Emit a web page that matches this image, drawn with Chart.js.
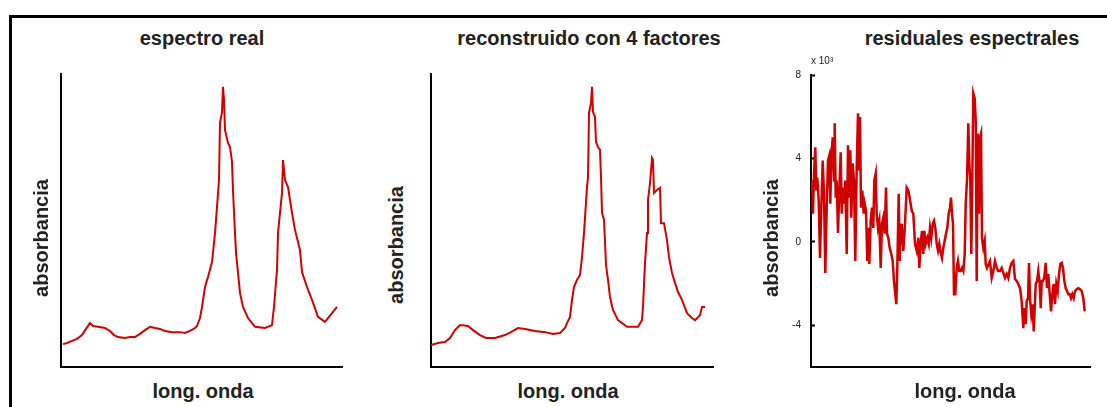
<!DOCTYPE html>
<html lang="es">
<head>
<meta charset="utf-8">
<title>Espectros y residuales</title>
<script src="https://cdn.jsdelivr.net/npm/chart.js@4.4.1/dist/chart.umd.min.js"></script>
<style>
  html, body { margin: 0; padding: 0; background: #fff; }
  body {
    width: 1107px; height: 407px; position: relative; overflow: hidden;
    font-family: "Liberation Sans", Arial, Helvetica, sans-serif; color: #222;
  }
  .frame {
    position: absolute; left: 9px; top: 15px; width: 1200px; height: 500px;
    border-left: 3px solid #000; border-top: 3px solid #000;
  }
  .panel { position: absolute; }
  .title, .xlabel {
    position: absolute; font-weight: bold; font-size: 20px; line-height: 20px;
    white-space: nowrap; transform: translateX(-50%);
  }
  .ylabel {
    position: absolute; width: 160px; height: 20px; font-weight: bold; font-size: 20px;
    line-height: 20px; text-align: center; white-space: nowrap; transform: rotate(-90deg);
  }
  .exp { position: absolute; font-size: 10px; line-height: 10px; white-space: nowrap; }
</style>
</head>
<body>
<div class="frame"></div>

<div class="panel" style="left:51px; top:64px; width:301px; height:313px;"><canvas id="realChart"></canvas></div>
<div class="panel" style="left:421px; top:64px; width:302px; height:313px;"><canvas id="reconChart"></canvas></div>
<div class="panel" style="left:771px; top:53px; width:329px; height:336px;"><canvas id="residChart"></canvas></div>

<div class="title" style="left:202px; top:28px;">espectro real</div>
<div class="title" style="left:589px; top:28px;">reconstruido con 4 factores</div>
<div class="title" style="left:972px; top:28px;">residuales espectrales</div>

<div class="ylabel" style="left:-39px; top:228px;">absorbancia</div>
<div class="ylabel" style="left:316px; top:235px;">absorbancia</div>
<div class="ylabel" style="left:691px; top:228px;">absorbancia</div>

<div class="xlabel" style="left:203px; top:381px;">long. onda</div>
<div class="xlabel" style="left:568px; top:381px;">long. onda</div>
<div class="xlabel" style="left:965px; top:381px;">long. onda</div>

<div class="exp" style="left:811px; top:56px;">x 10³</div>

<script>
// measured spectrum (arbitrary absorbance units, x = channel index)
const realX = [2, 6, 11, 16, 21, 25, 29, 32, 37, 44, 49, 53, 57, 64, 69, 74, 79, 84, 89, 94,
  99, 104, 111, 119, 124, 129, 134, 136, 139, 141, 144, 147, 151, 154, 156, 158, 159, 161, 162, 163,
  164, 167, 169, 171, 172, 173, 175, 177, 179, 182, 187, 194, 204, 211, 213, 216, 217, 219, 221, 222,
  224, 227, 231, 234, 239, 241, 246, 251, 257, 264, 271, 276];
const realY = [0.078, 0.082, 0.089, 0.096, 0.109, 0.130, 0.150, 0.140, 0.137, 0.133,
  0.123, 0.109, 0.102, 0.099, 0.102, 0.102, 0.113, 0.126, 0.137, 0.133,
  0.130, 0.123, 0.119, 0.119, 0.116, 0.123, 0.133, 0.140, 0.167, 0.205,
  0.273, 0.307, 0.358, 0.457, 0.546, 0.638, 0.833, 0.870, 0.956, 0.911,
  0.809, 0.765, 0.751, 0.700, 0.604, 0.526, 0.389, 0.321, 0.253, 0.205,
  0.167, 0.137, 0.133, 0.143, 0.205, 0.331, 0.457, 0.526, 0.594, 0.706,
  0.638, 0.614, 0.526, 0.468, 0.399, 0.324, 0.273, 0.229, 0.171, 0.154,
  0.184, 0.205];

// reconstruction from 4 factors
const reconX = [0, 7, 14, 19, 24, 29, 37, 42, 49, 55, 64, 74, 80, 87, 94, 104, 114, 122, 129, 134,
  136, 139, 141, 143, 146, 149, 151, 153, 156, 157, 158, 160, 161, 162, 164, 165, 167, 169, 170, 171,
  173, 175, 177, 179, 182, 187, 196, 207, 211, 212, 214, 216, 217, 219, 221, 222, 223, 226, 229, 230,
  233, 236, 238, 241, 244, 247, 251, 256, 261, 264, 269, 271, 274];
const reconY = [0.075, 0.082, 0.085, 0.099, 0.126, 0.143, 0.140, 0.126, 0.109, 0.099,
  0.099, 0.109, 0.119, 0.133, 0.130, 0.123, 0.119, 0.113, 0.116, 0.133,
  0.150, 0.171, 0.229, 0.273, 0.297, 0.314, 0.375, 0.457, 0.614, 0.648,
  0.867, 0.901, 0.956, 0.870, 0.853, 0.768, 0.751, 0.741, 0.648, 0.526,
  0.502, 0.348, 0.297, 0.239, 0.195, 0.160, 0.137, 0.137, 0.160, 0.205,
  0.355, 0.457, 0.570, 0.628, 0.713, 0.706, 0.594, 0.604, 0.611, 0.491,
  0.491, 0.433, 0.375, 0.321, 0.287, 0.256, 0.229, 0.184, 0.167, 0.160,
  0.177, 0.205, 0.205];

// residuals, in units of 1e-3
const residX = [1, 2, 3, 4.3, 5.3, 6.3, 7.7, 9, 10.3, 11.7, 13, 14.3, 15.7, 17, 18.3, 19.3, 20.3, 21.7, 23, 23.7,
  24.7, 25.7, 27, 28.3, 29.7, 30.7, 31.7, 33, 34.3, 35.7, 37, 38.3, 39.3, 40.3, 41.7, 43, 44.3, 45.7, 47, 48,
  49, 50, 51.3, 52.7, 53.7, 55, 56.3, 57.3, 58.3, 59.7, 61, 62.3, 63.3, 64.7, 65.7, 67, 68.3, 69.7, 71, 72.3,
  73.7, 75, 76, 77.3, 78.7, 80.3, 81.7, 83, 84.3, 85.3, 86.3, 87.7, 88.7, 89, 90.7, 92.3, 94, 95.7, 97.3, 98.7,
  100.7, 102.3, 104, 105.7, 107.3, 108.3, 109.7, 111, 112.3, 113.3, 114.7, 116.3, 117.7, 119, 120.3, 121.7, 123, 124.3, 125.7, 127,
  128.3, 129.7, 131, 132.3, 133.7, 135, 136.3, 137.7, 139, 140, 141, 142, 143, 144.3, 145.7, 147, 148.3, 149.7, 151, 152.3,
  153.7, 154.7, 156, 157.3, 158.3, 159.3, 160.3, 161.3, 162.3, 163.7, 164.7, 165.7, 166.7, 168, 169, 170, 171, 172.3, 173.7, 174.7,
  176, 177.7, 179, 180.7, 182.3, 184, 185.7, 187.3, 189, 190.7, 192.3, 194, 195.7, 197.3, 199, 200.7, 202.3, 204, 205.7, 207.3,
  209, 210.7, 212.3, 213.3, 214.7, 215.7, 217, 218, 219, 220.3, 221.7, 222.7, 223.7, 224.7, 226, 227.3, 228.7, 229.7, 230.7, 232,
  233.3, 234.7, 236, 237.3, 238.7, 240, 241.3, 242.7, 244, 245.3, 246.7, 248, 249.3, 250.7, 252, 253.3, 254.7, 256, 257.3, 258.7,
  260, 261.3, 262.7, 264, 265.7, 267.3, 269, 270.7, 272.3, 273.7];
const residY = [2.94, 1.35, 3.28, 4.53, 2.46, 3.08, 1.98, -0.77, 1.64, 3.90, 2.31, -1.49, 1.64, 3.90, 4.14, 1.83, 4.05, 5.01, 2.94, 5.69,
  2.12, 2.94, 0.43, 2.46, 4.29, 1.35, 2.60, 1.83, 2.94, -0.58, 4.63, 2.12, 4.39, 1.16, 3.76, 2.94, -0.92, 3.57, 6.17, 3.42,
  5.98, 1.64, 2.46, 1.35, 1.83, 1.49, -0.92, 0.67, -1.06, 1.01, 1.64, 0.67, 2.94, 3.28, 1.35, 0.67, 1.01, -1.25, 0.87, 1.16,
  0.39, 2.60, 0.39, 0.19, -0.29, -0.58, -0.92, -1.88, -2.51, -2.99, -1.25, 2.31, -0.92, -0.29, 0.87, -0.43, 0.87, 2.60, 2.46, 2.12,
  1.49, 1.35, -0.10, -0.43, 0.19, -1.25, -0.10, 0.53, -0.58, 0.53, -0.10, 0.19, -0.10, 0.67, 0.19, 0.87, 1.01, 0.67, -0.10, -0.43,
  -0.10, -0.53, -0.77, -0.29, 0.05, 0.39, 0.67, 1.35, 1.64, 2.12, 1.35, 0.87, -2.51, -2.51, -1.25, -0.92, -1.40, -1.40, -1.25, -1.40,
  -0.58, 1.83, 2.94, 5.69, 3.76, 2.94, -0.58, 2.94, 7.13, 6.89, 5.83, -1.88, 5.20, 1.35, 5.01, 5.20, 0.19, -0.29, 0.05, -1.06,
  -1.25, -1.06, -0.92, -1.73, -1.40, -0.92, -1.25, -1.40, -1.40, -1.25, -1.49, -1.73, -1.54, -1.73, -1.25, -1.01, -0.92, -1.78, -1.88, -2.02,
  -2.22, -2.84, -4.14, -3.18, -3.95, -2.84, -2.70, -1.01, -2.70, -3.47, -2.99, -4.29, -3.18, -2.02, -1.88, -1.40, -2.02, -3.18, -1.88, -1.88,
  -1.73, -1.01, -2.22, -1.54, -2.51, -3.33, -2.51, -2.02, -2.99, -2.02, -2.36, -1.54, -1.06, -1.01, -1.25, -1.88, -2.22, -2.36, -2.51, -2.51,
  -2.70, -2.51, -2.70, -2.36, -2.27, -2.22, -2.27, -2.36, -2.70, -3.33];
const residTicks = [-4, 0, 4, 8];

const lineColor = "#d00000";
const axisColor = "#000";

function toPoints(xs, ys) {
  return xs.map((x, i) => ({ x, y: ys[i] }));
}

function axisX(max) {
  return {
    type: "linear",
    min: 0,
    max,
    grid: { display: false },
    ticks: { display: false },
    border: { color: axisColor, width: 2 },
    afterFit: (scale) => { scale.height = 0; },
  };
}

function plainY(min, max) {
  return {
    min,
    max,
    grid: { display: false },
    ticks: { display: false },
    border: { color: axisColor, width: 2 },
    afterFit: (scale) => { scale.width = 0; },
  };
}

function drawPanel(id, xs, ys, xMax, yScale, padding, width = 2) {
  return new Chart(document.getElementById(id), {
    type: "line",
    data: {
      datasets: [{
        data: toPoints(xs, ys),
        borderColor: lineColor,
        borderWidth: width,
        pointRadius: 0,
        tension: 0,
        fill: false,
      }],
    },
    options: {
      responsive: true,
      maintainAspectRatio: false,
      animation: false,
      layout: { padding },
      plugins: { legend: { display: false }, tooltip: { enabled: false } },
      scales: { x: axisX(xMax), y: yScale },
    },
  });
}

drawPanel("realChart", realX, realY, 281, plainY(0, 1), 10);
drawPanel("reconChart", reconX, reconY, 282, plainY(0, 1), 10);

// residual axis: fixed ticks, short marks pointing into the plot
drawPanel("residChart", residX, residY, 279, {
  min: -6,
  max: 8,
  afterBuildTicks: (scale) => { scale.ticks = residTicks.map((v) => ({ value: v })); },
  grid: { drawOnChartArea: false, drawTicks: true, tickLength: -4, tickWidth: 2, tickColor: axisColor },
  ticks: {
    padding: 14,
    color: "#222",
    font: { family: "'Liberation Sans', Arial, sans-serif", size: 10 },
    callback: (v) => String(v),
  },
  border: { color: axisColor, width: 2 },
  afterFit: (scale) => { scale.width = 30; },
}, { top: 22, bottom: 22, left: 10, right: 10 }, 2.5);
</script>
</body>
</html>
